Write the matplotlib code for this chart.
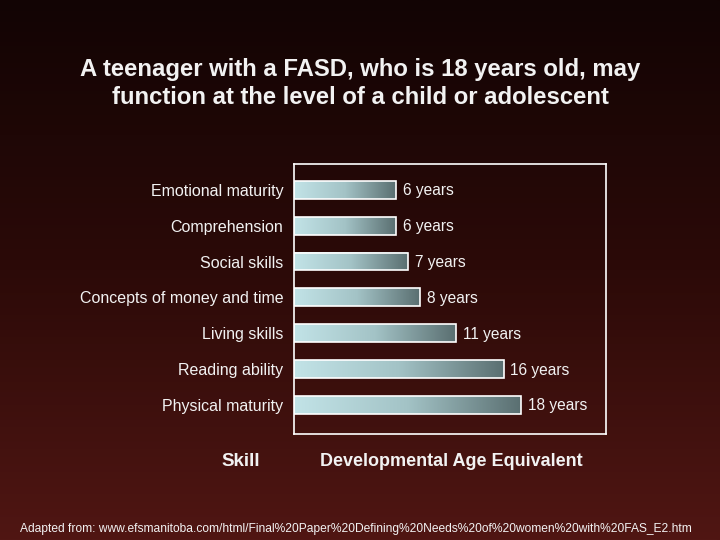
import numpy as np
import matplotlib
matplotlib.use("Agg")
import matplotlib.pyplot as plt
from matplotlib.colors import LinearSegmentedColormap

skills = ["Emotional maturity", "Comprehension", "Social skills",
          "Concepts of money and time", "Living skills", "Reading ability",
          "Physical maturity"]
bar_lengths = [8.15, 8.15, 9.13, 10.07, 12.96, 16.75, 18.19]
age_labels = ["6 years", "6 years", "7 years", "8 years", "11 years",
              "16 years", "18 years"]

plt.rcParams['font.family'] = ['Liberation Sans', 'DejaVu Sans']
txt = '#f2f2f2'

fig = plt.figure(figsize=(7.2, 5.4), dpi=100)

# background gradient (dark at top, dark red at bottom)
bg = fig.add_axes([0, 0, 1, 1], zorder=-10)
bg_cmap = LinearSegmentedColormap.from_list('bg', ['#120404', '#2c0a08', '#501613'])
bg.imshow(np.linspace(0, 1, 256).reshape(-1, 1), aspect='auto', cmap=bg_cmap,
          extent=[0, 1, 0, 1], origin='upper')
bg.axis('off')

ax = fig.add_axes([0.409, 0.1963, 0.4333, 0.4991])
ax.patch.set_alpha(0)
bar_cmap = LinearSegmentedColormap.from_list('bar', ['#c2e3e7', '#a3c3c6', '#5a6f71'])
grad = np.linspace(0, 1, 256).reshape(1, -1)
h = 0.5
for i, (w, lab) in enumerate(zip(bar_lengths, age_labels)):
    ax.imshow(grad, aspect='auto', cmap=bar_cmap,
              extent=[0, w, i + h / 2, i - h / 2], zorder=2)
    ax.barh(i, w, height=h, fill=False, edgecolor='white', linewidth=1.2, zorder=3)
    ax.text(w + 0.55, i + 0.02, lab, color=txt, fontsize=11.2, va='center', ha='left')

ax.set_xlim(0, 25)
ax.set_ylim(6.8, -0.7)
ax.set_yticks(range(len(skills)))
ax.set_yticklabels(skills, color=txt, fontsize=11.5)
ax.tick_params(axis='y', length=0, pad=8)
ax.set_xticks([])
for s in ax.spines.values():
    s.set_color('white')
    s.set_linewidth(1.2)

fig.text(0.5, 1 - 83.5 / 540, "A teenager with a FASD, who is 18 years old, may\nfunction at the level of a child or adolescent",
         ha='center', va='center', color=txt, fontsize=17.2, fontweight='bold', linespacing=1.25)
fig.text(241 / 720, 1 - 461 / 540, "Skill", ha='center', va='center',
         color=txt, fontsize=13.5, fontweight='bold')
fig.text(451 / 720, 1 - 461 / 540, "Developmental Age Equivalent", ha='center', va='center',
         color=txt, fontsize=13, fontweight='bold')
fig.text(20 / 720, 1 - 529 / 540,
         "Adapted from: www.efsmanitoba.com/html/Final%20Paper%20Defining%20Needs%20of%20women%20with%20FAS_E2.htm",
         ha='left', va='center', color=txt, fontsize=8.65)

fig.savefig("out.png", dpi=100)
